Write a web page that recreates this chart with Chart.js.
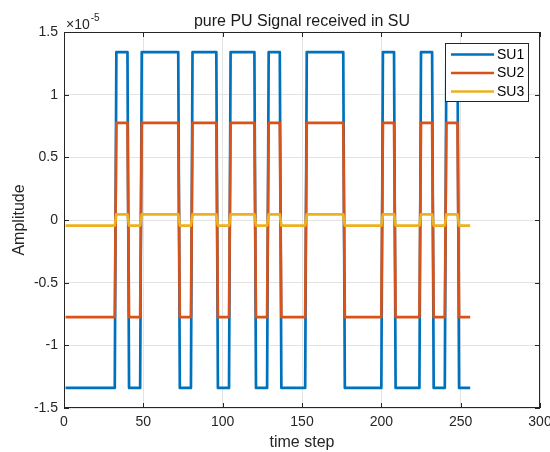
<!DOCTYPE html>
<html>
<head>
<meta charset="utf-8">
<script src="https://cdn.jsdelivr.net/npm/chart.js"></script>
<style>
  html, body { margin: 0; padding: 0; background: #fff; }
  #wrap { width: 550px; height: 452px; }
</style>
</head>
<body>
<div id="wrap"><canvas id="chartContainer" width="550" height="452"></canvas></div>
<script>
"use strict";

// 1: data
// corner points of the square waves (amplitude in units of 1e-5)
let timeStep = [1, 32, 33, 40, 41, 48, 49, 72, 73, 80, 81, 96, 97, 104, 105, 120, 121, 128, 129, 136,
  137, 152, 153, 176, 177, 200, 201, 208, 209, 224, 225, 232, 233, 240, 241, 248, 249, 256];

let su1 = [-1.34, -1.34, 1.34, 1.34, -1.34, -1.34, 1.34, 1.34, -1.34, -1.34, 1.34, 1.34, -1.34, -1.34,
  1.34, 1.34, -1.34, -1.34, 1.34, 1.34, -1.34, -1.34, 1.34, 1.34, -1.34, -1.34, 1.34, 1.34, -1.34, -1.34,
  1.34, 1.34, -1.34, -1.34, 1.34, 1.34, -1.34, -1.34];

let su2 = [-0.775, -0.775, 0.775, 0.775, -0.775, -0.775, 0.775, 0.775, -0.775, -0.775, 0.775, 0.775,
  -0.775, -0.775, 0.775, 0.775, -0.775, -0.775, 0.775, 0.775, -0.775, -0.775, 0.775, 0.775, -0.775, -0.775,
  0.775, 0.775, -0.775, -0.775, 0.775, 0.775, -0.775, -0.775, 0.775, 0.775, -0.775, -0.775];

let su3 = [-0.045, -0.045, 0.045, 0.045, -0.045, -0.045, 0.045, 0.045, -0.045, -0.045, 0.045, 0.045,
  -0.045, -0.045, 0.045, 0.045, -0.045, -0.045, 0.045, 0.045, -0.045, -0.045, 0.045, 0.045, -0.045, -0.045,
  0.045, 0.045, -0.045, -0.045, 0.045, 0.045, -0.045, -0.045, 0.045, 0.045, -0.045, -0.045];

let seriesNames = ["SU1", "SU2", "SU3"];
let seriesColors = ["#0072BD", "#D95319", "#EDB120"];

let xTicks = [0, 50, 100, 150, 200, 250, 300];
let yTicks = [-1.5, -1, -0.5, 0, 0.5, 1, 1.5];

const FONT = "'Liberation Sans', Arial, Helvetica, sans-serif";
const AXIS_COLOR = "#262626";

// 2: prepare data for chart
function toPoints(values) {
  return timeStep.map((t, i) => ({ x: t, y: values[i] }));
}

// draws the matlab style title, box, inward ticks, exponent label and legend
const matlabAxes = {
  id: "matlabAxes",
  beforeDatasetsDraw(chart) {
    const { ctx, chartArea: a, scales: { x, y } } = chart;
    ctx.save();
    ctx.strokeStyle = AXIS_COLOR;
    ctx.lineWidth = 1;
    ctx.beginPath();
    for (const v of xTicks) {
      const px = Math.round(x.getPixelForValue(v)) + 0.5;
      ctx.moveTo(px, a.bottom); ctx.lineTo(px, a.bottom - 5);
      ctx.moveTo(px, a.top); ctx.lineTo(px, a.top + 5);
    }
    for (const v of yTicks) {
      const py = Math.round(y.getPixelForValue(v)) + 0.5;
      ctx.moveTo(a.left, py); ctx.lineTo(a.left + 5, py);
      ctx.moveTo(a.right, py); ctx.lineTo(a.right - 5, py);
    }
    ctx.stroke();
    ctx.strokeRect(Math.round(a.left) + 0.5, Math.round(a.top) + 0.5,
      Math.round(a.width) - 1, Math.round(a.height) - 1);
    ctx.restore();
  },
  afterDraw(chart) {
    const { ctx, chartArea: a } = chart;
    ctx.save();
    // title, centred on the axes
    ctx.fillStyle = "#1a1a1a";
    ctx.textAlign = "center";
    ctx.textBaseline = "alphabetic";
    ctx.font = "16px " + FONT;
    ctx.fillText("pure PU Signal received in SU", (a.left + a.right) / 2, 26);

    // x10^-5 label
    ctx.fillStyle = AXIS_COLOR;
    ctx.textAlign = "left";
    ctx.font = "14px " + FONT;
    ctx.fillText("\u00d710", a.left + 2, a.top - 3);
    const w = ctx.measureText("\u00d710").width;
    ctx.font = "10px " + FONT;
    ctx.fillText("-5", a.left + 2 + w + 1, a.top - 11);

    // legend
    const bx = 445.5, by = 43.5, bw = 83, bh = 58;
    ctx.fillStyle = "#fff";
    ctx.fillRect(bx, by, bw, bh);
    ctx.strokeStyle = AXIS_COLOR;
    ctx.lineWidth = 1;
    ctx.strokeRect(bx, by, bw, bh);
    ctx.font = "14px " + FONT;
    ctx.textBaseline = "middle";
    seriesNames.forEach((name, i) => {
      const ly = 54.5 + i * 18.5;
      ctx.strokeStyle = seriesColors[i];
      ctx.lineWidth = 2.7;
      ctx.beginPath();
      ctx.moveTo(451, ly);
      ctx.lineTo(494, ly);
      ctx.stroke();
      ctx.fillStyle = "#000";
      ctx.fillText(name, 497, ly + 0.5);
    });
    ctx.restore();
  }
};

// 3: create the chart
function appendChart() {
  let chartContainer = document.getElementById("chartContainer");
  let datasets = [su1, su2, su3].map((values, i) => ({
    label: seriesNames[i],
    data: toPoints(values),
    borderColor: seriesColors[i],
    backgroundColor: seriesColors[i],
    borderWidth: 2.7,
    borderJoinStyle: "round",
    pointRadius: 0,
    tension: 0,
    fill: false,
    order: 3 - i // SU3 on top
  }));

  new Chart(chartContainer, {
    type: "line",
    data: { datasets },
    plugins: [matlabAxes],
    options: {
      responsive: false,
      animation: false,
      devicePixelRatio: 1,
      layout: { padding: { top: 32, right: 10, bottom: 0, left: 0 } },
      plugins: {
        legend: { display: false },
        tooltip: { enabled: false },
        title: { display: false }
      },
      scales: {
        x: {
          type: "linear",
          min: 0,
          max: 300,
          afterBuildTicks: (scale) => { scale.ticks = xTicks.map(v => ({ value: v })); },
          afterFit: (scale) => { scale.height = 44; scale.paddingRight = 0; scale.paddingLeft = 0; },
          grid: { color: "#e3e3e3", drawTicks: false },
          border: { display: false },
          ticks: { color: AXIS_COLOR, padding: 6, maxRotation: 0, font: { family: FONT, size: 14 } },
          title: {
            display: true,
            text: "time step",
            color: AXIS_COLOR,
            font: { family: FONT, size: 16 },
            padding: { top: 0, bottom: 0 }
          }
        },
        y: {
          min: -1.5,
          max: 1.5,
          afterBuildTicks: (scale) => { scale.ticks = yTicks.map(v => ({ value: v })); },
          afterFit: (scale) => { scale.width = 64; scale.paddingTop = 0; scale.paddingBottom = 0; },
          grid: { color: "#e3e3e3", drawTicks: false },
          border: { display: false },
          ticks: {
            color: AXIS_COLOR,
            padding: 6,
            font: { family: FONT, size: 14 },
            callback: (value) => String(value)
          },
          title: {
            display: true,
            text: "Amplitude",
            color: AXIS_COLOR,
            font: { family: FONT, size: 16 },
            padding: { top: 10, bottom: 0 }
          }
        }
      }
    }
  });
}

appendChart();
</script>
</body>
</html>
